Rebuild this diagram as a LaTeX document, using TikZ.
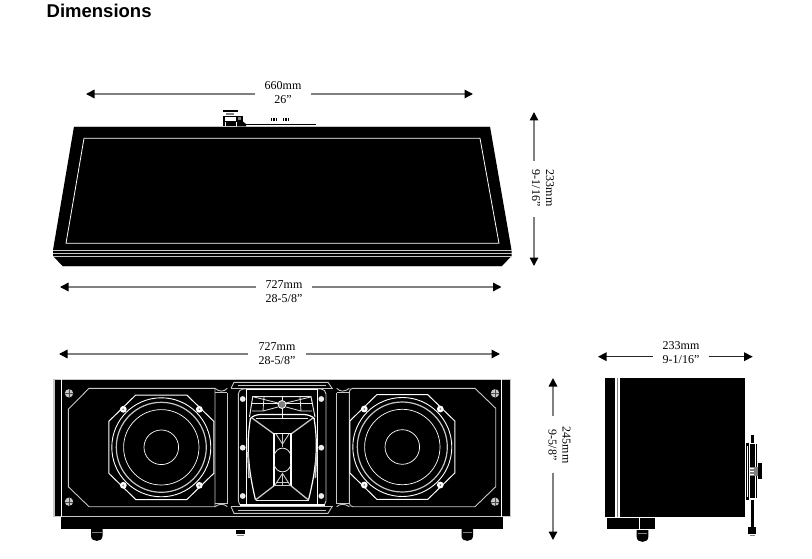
\documentclass[tikz,border=0pt]{standalone}
\usepackage{fontspec}
\setmainfont{Liberation Serif}
\newfontfamily\headfont{Liberation Sans}
\usetikzlibrary{arrows.meta}
\definecolor{dimgray}{gray}{0.5}
\definecolor{linegray}{gray}{0.78}
\tikzset{
  dimline/.style={draw=dimgray,line width=1.5pt,-{Triangle[color=black,length=8.5pt,width=8.5pt]}},
  dimlabel/.style={font=\fontsize{12}{14}\selectfont,align=center,inner sep=0pt,text=black},
  wl/.style={draw=white,line width=0.9pt},
  gl/.style={draw=linegray,line width=0.9pt},
  thin wl/.style={draw=white,line width=0.7pt},
  horn/.style={draw=white!92!black,line width=0.8pt},
  heavy/.style={draw=white,line width=1.2pt},
}
% one woofer, centred at the origin of the scope
\newcommand{\woofer}{%
  \draw[wl,line width=1pt] (-25.5,-52.3) -- (25.5,-52.3) -- (52.5,-26) -- (52.5,26) -- (25.5,52.3) -- (-25.5,52.3) -- (-52.5,26) -- (-52.5,-26) -- cycle;
  \draw[wl] (0,0) circle (49.5);
  \draw[gl,line width=1.2pt] (0,0) circle (45);
  \draw[thin wl] (0,0) circle (37.7);
  \draw[thin wl] (0,0) circle (17.3);
  \foreach \sx/\sy in {-38/-38,38/-38,-38/38,38/38}{
    \fill[white] (\sx,\sy) circle (3.4);
    \fill[gray] (\sx,\sy) circle (1);
  }
}
\newcommand{\cabscrew}[2]{%
  \fill[linegray] (#1,#2) circle (4.2);
  \draw[black!70,line width=0.4pt] (#1-4.2,#2) -- (#1+4.2,#2) (#1,#2-4.2) -- (#1,#2+4.2);
}
\newcommand{\cabfoot}[3]{%
  \fill[black] (#1,#3) -- (#2,#3) -- (#2,#3+7) .. controls (#2,#3+13.5) and (#1,#3+13.5) .. (#1,#3+7) -- cycle;
  \draw[gray,line width=0.4pt] (#1+1,#3+3) -- (#2-1,#3+3);
}
\begin{document}
\begin{tikzpicture}[x=1pt,y=-1pt]
\useasboundingbox (0,0) rectangle (812,559);
\fill[white] (0,0) rectangle (812,559);
\node[anchor=west,inner sep=0pt,font=\headfont\bfseries\fontsize{18.5}{20}\selectfont] (title) at (46.5,11) {Dimensions};

% ---------- top view ----------
\fill[black] (74,126.5) -- (490,126.5) -- (511.5,250) -- (511.5,256) -- (501.5,266.5) -- (63,266.5) -- (53,256) -- (53,250) -- cycle;
\draw[gl,line width=0.5pt] (74,126.5) -- (490,126.5);
\draw[gl,line width=0.6pt] (63,266.5) -- (501.5,266.5);
\draw[wl,line width=0.8pt] (84,138.3) -- (480,138.3) -- (499,243.3) -- (66,243.3) -- cycle;
\draw[gl,line width=0.7pt] (53,250.7) -- (511.5,250.7);
\draw[gl,line width=0.7pt] (53,253.3) -- (511.5,253.3);
\draw[gl,line width=0.7pt] (53,256) -- (511.5,256);
% connector panel on the top edge
\fill[black] (223,110.5) rectangle (238,112.2);
\fill[dimgray] (226,113.2) rectangle (234,114.6);
\fill[black] (223,116) rectangle (236,117.2);
\fill[black] (223,117.2) rectangle (224.5,126.5);
\fill[black] (223,121) rectangle (237,122);
\fill[black] (225.5,122) rectangle (236,126.5);
\fill[black] (236,116) rectangle (243,122);
\fill[gray] (238,117.5) rectangle (241,120.5);
\fill[black] (237,122) -- (241,120) -- (246,124) -- (246,126.5) -- (237,126.5) -- cycle;
\draw[black,line width=0.9pt] (244,124.3) -- (316,124.3);
\foreach \xa in {271.5,274,276.5,283.5,286,288.5}{\fill[black] (\xa-0.9,118.5) rectangle (\xa+0.9,121.5);}

% ---------- front view ----------
\fill[black] (53,379) rectangle (511,516.5);
\fill[black] (61,517) rectangle (503,528.7);
\draw[gl,line width=0.6pt] (53,379) -- (511,379);
\draw[gl,line width=0.9pt] (53,516.8) -- (511,516.8);
\draw[gl,line width=1.4pt] (54,379) -- (54,516.8);
\draw[wl,line width=0.8pt] (61.7,379) -- (61.7,516.8);
\draw[wl,line width=0.8pt] (501.5,379) -- (501.5,516.8);
\draw[gl,line width=0.9pt] (510.5,379) -- (510.5,516.8);
% feet
\cabfoot{91}{102.5}{529}
\cabfoot{461.5}{473}{529}
\fill[black] (236,530) rectangle (244.5,534);
\fill[dimgray] (237,535) rectangle (243.5,536.4);
% baffles
\draw[gl] (89,388.3) -- (215,388.3) -- (215,506.7) -- (89,506.7) -- (68.3,486.7) -- (68.3,409.3) -- cycle;
\draw[gl] (475,388.3) -- (353,388.3) to[out=180,in=90] (349.3,392) -- (349.3,503) to[out=-90,in=180] (353,506.7) -- (475,506.7) -- (495.7,486.7) -- (495.7,408.3) -- cycle;
% waveguide recess strips
\draw[gl] (215,392.7) -- (227.3,392.7) (215,503.5) -- (227.3,503.5) (336.7,392.7) -- (349.3,392.7) (336.7,503.5) -- (349.3,503.5);
\draw[gl] (227.3,392.7) -- (227.3,503.5);
\draw[gl] (336.7,392.7) -- (336.7,503.5);
\draw[gl] (215,388.3) .. controls (219,392) and (224,392) .. (227.3,388.3);
\draw[gl] (336.7,388.3) .. controls (340,392) and (345,392) .. (349.3,388.3);
\draw[gl] (215,506.7) .. controls (219,503.5) and (224,503.5) .. (227.3,506.7);
\draw[gl] (336.7,506.7) .. controls (340,503.5) and (345,503.5) .. (349.3,506.7);
% centre flanges
\draw[gl] (231,388.3) -- (234,382.3) -- (328,382.3) -- (332,388.3);
\draw[gl] (231,388.3) -- (333,388.3);
\draw[gl] (231,506.7) -- (234,513.3) -- (328,513.3) -- (332,506.7);
\draw[gl] (231,506.7) -- (333,506.7);
\draw[gl] (238,385) -- (326,385);
\draw[gl] (238,510) -- (326,510);
% horn plate
\draw[gl,rounded corners=5pt] (238.3,389) rectangle (326,506);
\draw[wl,line width=1pt] (246.7,389) -- (246.7,505.5);
\draw[wl,line width=1pt] (317,389) -- (317,505.5);
\draw[heavy] (240,505) -- (325,505);
\draw[wl,line width=0.7pt] (246.7,389.5) -- (317,389.5);
\foreach \py in {399,447.7,496}{
  \fill[white!92!black] (242.7,\py) circle (2.9);
  \fill[white!92!black] (321.3,\py) circle (2.9);
}
% tweeter horn mouth
\draw[horn,line width=1pt] (249.5,417) -- (252.7,396.7) -- (311,396.7) -- (315,417);
\draw[horn] (252,411) -- (263,411) -- (278,407);
\draw[horn] (312,411) -- (301,411) -- (286,407);
\draw[horn] (251,403.3) -- (313,403.3);
\draw[horn] (264,396.7) -- (263,411);
\draw[horn] (300,396.7) -- (301,411);
\draw[horn] (282,396.7) -- (282,418);
\draw[horn] (254,397) -- (278,403) (310.5,397) -- (286,403);
\fill[gray] (282,404.5) circle (4);
\draw[white,line width=0.8pt] (282,404.5) circle (4);
% main horn
\draw[heavy] (250,419) .. controls (253,415.5) and (256,415) .. (260,414.5) -- (304,414.5) .. controls (308,415) and (312,415.5) .. (314.5,419);
\draw[horn] (256,418) -- (308,418);
\draw[heavy] (250.5,418) .. controls (247,440) and (246.5,462) .. (255.5,500);
\draw[heavy] (314,418) .. controls (317.5,440) and (318,462) .. (308.5,500);
\draw[gl,line width=1.6pt] (247.8,452) -- (249,478);
\draw[gl,line width=1.6pt] (316.6,452) -- (315.4,478);
\draw[horn] (255.5,500) -- (308.5,500);
\draw[gl,line width=1.3pt] (252,418) -- (274,434);
\draw[gl,line width=1.3pt] (313,418) -- (291,434);
\draw[gl,line width=1.3pt] (255.5,500) -- (275,485);
\draw[gl,line width=1.3pt] (308.5,500) -- (290,485);
\draw[heavy] (274,433) -- (274,486);
\draw[heavy] (291,433) -- (291,486);
\draw[heavy] (274,433.3) -- (291,433.3);
\draw[horn] (274,456) .. controls (276,445.5) and (289,445.5) .. (291,456);
\draw[horn] (274,464) .. controls (276,474.5) and (289,474.5) .. (291,464);
\draw[gl] (276,434) -- (282.5,444) -- (289,434);
\draw[gl] (282.5,434) -- (282.5,447);
\draw[gl] (275,485) -- (282.5,473.5) -- (290,485);
\draw[gl] (282.5,473.5) -- (282.5,485);
\draw[gl] (276,482) -- (289,482);
\draw[gl] (274,485.5) -- (291,485.5);
% woofers and screws
\begin{scope}[shift={(161.3,447.3)}]\woofer\end{scope}
\begin{scope}[shift={(402.3,447)}]\woofer\end{scope}
\cabscrew{69}{393.3}
\cabscrew{69}{501.7}
\cabscrew{495}{393.3}
\cabscrew{495}{501.7}

% ---------- side view ----------
\fill[black] (604.7,377.7) rectangle (745.3,516.7);
\fill[white] (615.3,377.7) rectangle (619.5,516.7);
\draw[gray,line width=0.4pt] (617.4,377.7) -- (617.4,516.7);
\fill[black] (607.3,517.5) rectangle (655,529);
\draw[white,line width=0.8pt] (639,517.5) -- (639,529);
\cabfoot{636.7}{648.3}{530}
% grille seen from the side
\fill[black] (750.5,435) rectangle (754,443);
\fill[black] (750.5,500) rectangle (754,527);
\fill[black] (748.3,527) rectangle (756,534);
\fill[dimgray] (749.5,535) rectangle (755,536);
\draw[black,line width=0.8pt] (746,444) rectangle (748.5,499);
\fill[black] (746,443) rectangle (748.5,446);
\fill[black] (746,497) rectangle (748.5,500);
\fill[black] (749.5,444) rectangle (750.4,498);
\fill[black] (751.3,444) rectangle (754.5,498);
\fill[black] (755.5,444) rectangle (756.5,498);
\fill[dimgray] (750,466.7) rectangle (758.5,475.7);
\fill[black] (758.3,463.3) rectangle (761.7,479);
\foreach \gy in {468,471,474}{\draw[white,line width=0.5pt] (750,\gy) -- (754,\gy);}

% ---------- dimension labels and arrows ----------
\node[dimlabel] (dimA) at (283,92.5) {660mm\\26”};
\coordinate (dimAl) at (86,94);
\coordinate (dimAr) at (473,94);
\coordinate (dimAa) at (255,94);
\coordinate (dimAb) at (311,94);
\draw[dimline] (dimAa) -- (dimAl);
\draw[dimline] (dimAb) -- (dimAr);

\node[dimlabel] (dimB) at (284,291.5) {727mm\\28-5/8”};
\coordinate (dimBl) at (60,287);
\coordinate (dimBr) at (501.5,287);
\coordinate (dimBa) at (256,287);
\coordinate (dimBb) at (312,287);
\draw[dimline] (dimBa) -- (dimBl);
\draw[dimline] (dimBb) -- (dimBr);

\node[dimlabel] (dimC) at (277,353.5) {727mm\\28-5/8”};
\coordinate (dimCl) at (59,354);
\coordinate (dimCr) at (500,354);
\coordinate (dimCa) at (248,354);
\coordinate (dimCb) at (306,354);
\draw[dimline] (dimCa) -- (dimCl);
\draw[dimline] (dimCb) -- (dimCr);

\node[dimlabel,rotate=-90] (dimD) at (543,188) {233mm\\9-1/16”};
\coordinate (dimDt) at (534,112);
\coordinate (dimDb) at (534,266);
\coordinate (dimDa) at (534,161);
\coordinate (dimDc) at (534,217);
\draw[dimline] (dimDa) -- (dimDt);
\draw[dimline] (dimDc) -- (dimDb);

\node[dimlabel,rotate=-90] (dimE) at (559.5,445) {245mm\\9-5/8”};
\coordinate (dimEt) at (553,378);
\coordinate (dimEb) at (553,540);
\coordinate (dimEa) at (553,416);
\coordinate (dimEc) at (553,473);
\draw[dimline] (dimEa) -- (dimEt);
\draw[dimline] (dimEc) -- (dimEb);

\node[dimlabel] (dimF) at (681,352.5) {233mm\\9-1/16”};
\coordinate (dimFl) at (598,356.7);
\coordinate (dimFr) at (752.7,356.7);
\coordinate (dimFa) at (652.7,356.7);
\coordinate (dimFb) at (708.7,356.7);
\draw[dimline,draw=black!85] (dimFa) -- (dimFl);
\draw[dimline,draw=black!85] (dimFb) -- (dimFr);
\end{tikzpicture}
\end{document}
